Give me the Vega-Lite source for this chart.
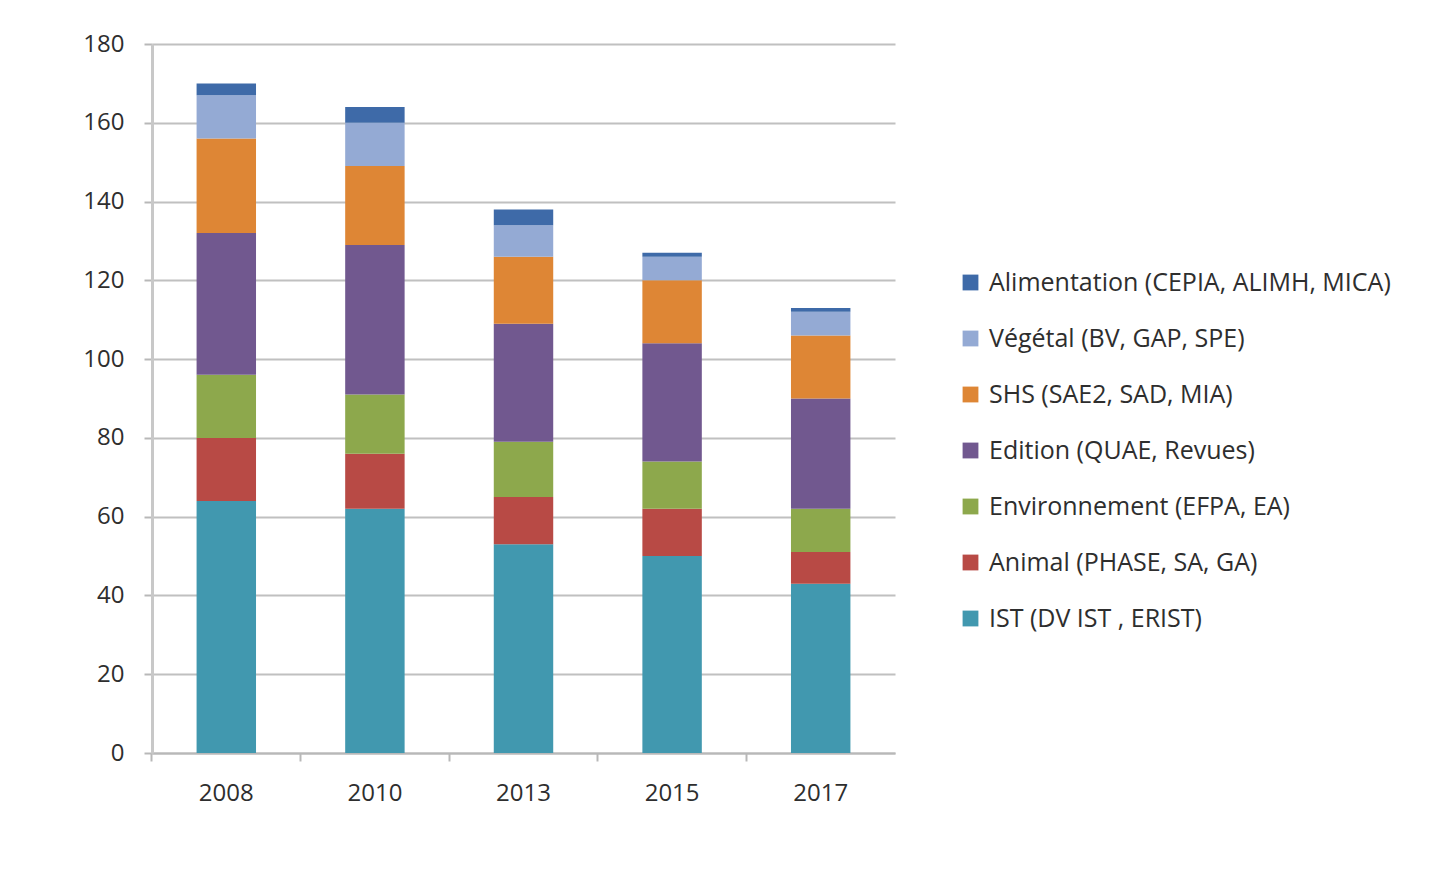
{
  "$schema": "https://vega.github.io/schema/vega-lite/v6.json",
  "width": 743,
  "height": 709,
  "autosize": "none",
  "padding": {"left": 152, "top": 44, "right": 556, "bottom": 137},
  "background": "white",
  "config": {
    "view": {"stroke": null},
    "font": "Open Sans"
  },
  "data": {
    "values": [
      {"annee": "2008", "groupe": "IST (DV IST , ERIST)", "ordre": 1, "n": 64},
      {"annee": "2008", "groupe": "Animal (PHASE, SA, GA)", "ordre": 2, "n": 16},
      {"annee": "2008", "groupe": "Environnement (EFPA, EA)", "ordre": 3, "n": 16},
      {"annee": "2008", "groupe": "Edition (QUAE, Revues)", "ordre": 4, "n": 36},
      {"annee": "2008", "groupe": "SHS (SAE2, SAD, MIA)", "ordre": 5, "n": 24},
      {"annee": "2008", "groupe": "Végétal (BV, GAP, SPE)", "ordre": 6, "n": 11},
      {"annee": "2008", "groupe": "Alimentation (CEPIA, ALIMH, MICA)", "ordre": 7, "n": 3},
      {"annee": "2010", "groupe": "IST (DV IST , ERIST)", "ordre": 1, "n": 62},
      {"annee": "2010", "groupe": "Animal (PHASE, SA, GA)", "ordre": 2, "n": 14},
      {"annee": "2010", "groupe": "Environnement (EFPA, EA)", "ordre": 3, "n": 15},
      {"annee": "2010", "groupe": "Edition (QUAE, Revues)", "ordre": 4, "n": 38},
      {"annee": "2010", "groupe": "SHS (SAE2, SAD, MIA)", "ordre": 5, "n": 20},
      {"annee": "2010", "groupe": "Végétal (BV, GAP, SPE)", "ordre": 6, "n": 11},
      {"annee": "2010", "groupe": "Alimentation (CEPIA, ALIMH, MICA)", "ordre": 7, "n": 4},
      {"annee": "2013", "groupe": "IST (DV IST , ERIST)", "ordre": 1, "n": 53},
      {"annee": "2013", "groupe": "Animal (PHASE, SA, GA)", "ordre": 2, "n": 12},
      {"annee": "2013", "groupe": "Environnement (EFPA, EA)", "ordre": 3, "n": 14},
      {"annee": "2013", "groupe": "Edition (QUAE, Revues)", "ordre": 4, "n": 30},
      {"annee": "2013", "groupe": "SHS (SAE2, SAD, MIA)", "ordre": 5, "n": 17},
      {"annee": "2013", "groupe": "Végétal (BV, GAP, SPE)", "ordre": 6, "n": 8},
      {"annee": "2013", "groupe": "Alimentation (CEPIA, ALIMH, MICA)", "ordre": 7, "n": 4},
      {"annee": "2015", "groupe": "IST (DV IST , ERIST)", "ordre": 1, "n": 50},
      {"annee": "2015", "groupe": "Animal (PHASE, SA, GA)", "ordre": 2, "n": 12},
      {"annee": "2015", "groupe": "Environnement (EFPA, EA)", "ordre": 3, "n": 12},
      {"annee": "2015", "groupe": "Edition (QUAE, Revues)", "ordre": 4, "n": 30},
      {"annee": "2015", "groupe": "SHS (SAE2, SAD, MIA)", "ordre": 5, "n": 16},
      {"annee": "2015", "groupe": "Végétal (BV, GAP, SPE)", "ordre": 6, "n": 6},
      {"annee": "2015", "groupe": "Alimentation (CEPIA, ALIMH, MICA)", "ordre": 7, "n": 1},
      {"annee": "2017", "groupe": "IST (DV IST , ERIST)", "ordre": 1, "n": 43},
      {"annee": "2017", "groupe": "Animal (PHASE, SA, GA)", "ordre": 2, "n": 8},
      {"annee": "2017", "groupe": "Environnement (EFPA, EA)", "ordre": 3, "n": 11},
      {"annee": "2017", "groupe": "Edition (QUAE, Revues)", "ordre": 4, "n": 28},
      {"annee": "2017", "groupe": "SHS (SAE2, SAD, MIA)", "ordre": 5, "n": 16},
      {"annee": "2017", "groupe": "Végétal (BV, GAP, SPE)", "ordre": 6, "n": 6},
      {"annee": "2017", "groupe": "Alimentation (CEPIA, ALIMH, MICA)", "ordre": 7, "n": 1}
    ]
  },
  "mark": {"type": "bar"},
  "encoding": {
    "x": {
      "field": "annee",
      "type": "nominal",
      "sort": null,
      "scale": {"paddingInner": 0.6, "paddingOuter": 0.3},
      "axis": {
        "title": null,
        "labelAngle": 0,
        "labelFontSize": 24,
        "labelColor": "#2e2e2e",
        "labelPadding": 20,
        "bandPosition": -0.75,
        "ticks": true,
        "tickSize": 8,
        "tickColor": "#b8b8b8",
        "tickWidth": 2,
        "domainColor": "#b8b8b8",
        "domainWidth": 2
      }
    },
    "y": {
      "field": "n",
      "type": "quantitative",
      "stack": "zero",
      "scale": {"domain": [0, 180], "nice": false},
      "axis": {
        "title": null,
        "values": [0, 20, 40, 60, 80, 100, 120, 140, 160, 180],
        "labelFontSize": 24,
        "labelColor": "#2e2e2e",
        "labelPadding": 20,
        "tickSize": 8,
        "tickColor": "#b8b8b8",
        "tickWidth": 2,
        "domainColor": "#c8c8c8",
        "domainWidth": 3,
        "grid": true,
        "gridColor": "#c0c0c0",
        "gridWidth": 2
      }
    },
    "color": {
      "field": "groupe",
      "type": "nominal",
      "scale": {
        "domain": [
          "Alimentation (CEPIA, ALIMH, MICA)",
          "Végétal (BV, GAP, SPE)",
          "SHS (SAE2, SAD, MIA)",
          "Edition (QUAE, Revues)",
          "Environnement (EFPA, EA)",
          "Animal (PHASE, SA, GA)",
          "IST (DV IST , ERIST)"
        ],
        "range": ["#3E6AA8", "#94AAD4", "#DE8635", "#71588F", "#8DA84C", "#B84A45", "#4198AF"]
      },
      "legend": {
        "title": null,
        "orient": "none",
        "legendX": 806,
        "legendY": 226,
        "symbolType": "square",
        "symbolSize": 250,
        "symbolStrokeWidth": 0,
        "labelFontSize": 25,
        "labelColor": "#2e2e2e",
        "labelOffset": 6,
        "rowPadding": 30,
        "labelLimit": 600
      }
    },
    "order": {"field": "ordre", "type": "quantitative"}
  }
}
